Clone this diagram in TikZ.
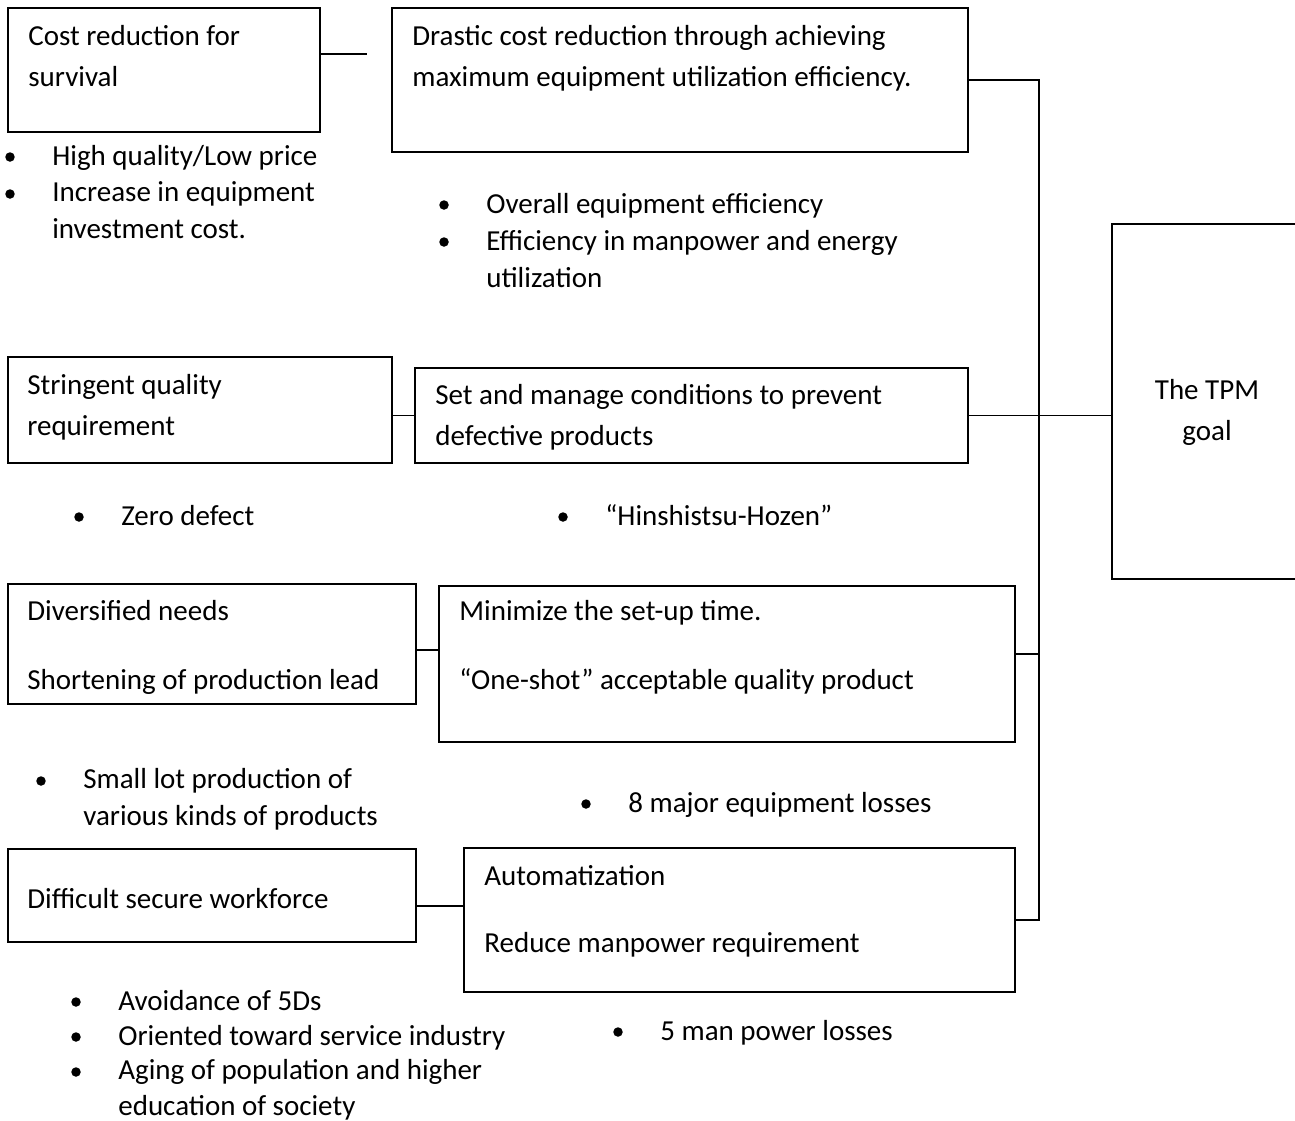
\documentclass[tikz,border=0pt]{standalone}
\usepackage{fontspec}
\setmainfont{Carlito}
\newcommand{\pxl}{0.02cm}
\tikzset{
  box/.style={draw, line width=1.1pt, inner sep=0pt, anchor=north west},
  txt/.style={anchor=base west, inner sep=0pt, align=left, font=\fontsize{16.5}{22.8}\selectfont},
  lst/.style={anchor=base west, inner sep=0pt, align=left, font=\fontsize{16.5}{20.9}\selectfont},
  blt/.style={circle, fill, inner sep=0pt, minimum size=0.19cm},
  link/.style={line width=1.1pt}
}

\begin{document}
\begin{tikzpicture}[x=0.02cm, y=-0.02cm]
\clip (0,0) rectangle (1295,1120);

% boxes
\node[box, minimum width=312*\pxl, minimum height=124*\pxl] (cost) at (7,7) {};
\node[box, minimum width=576*\pxl, minimum height=144*\pxl] (drastic) at (391,7) {};
\node[box, minimum width=384*\pxl, minimum height=106*\pxl] (strin) at (7,356) {};
\node[box, minimum width=553*\pxl, minimum height=95*\pxl] (setman) at (414,367) {};
\node[box, minimum width=408*\pxl, minimum height=120*\pxl] (divers) at (7,583) {};
\node[box, minimum width=576*\pxl, minimum height=156*\pxl] (minim) at (438,585) {};
\node[box, minimum width=408*\pxl, minimum height=93*\pxl] (diffic) at (7,848) {};
\node[box, minimum width=551*\pxl, minimum height=144*\pxl] (autom) at (463,847) {};
\node[box, minimum width=192*\pxl, minimum height=355*\pxl] (tpm) at (1111,223) {};

% texts in boxes (placed at the baseline of their last line)
\node[txt] (tcost) at (28,86) {Cost reduction for\\survival};
\node[txt] (tdrastic) at (412,86) {Drastic cost reduction through achieving\\maximum equipment utilization efficiency.};
\node[txt] (tstrin) at (27,435) {Stringent quality\\requirement};
\node[txt] (tsetman) at (435,445) {Set and manage conditions to prevent\\defective products};
\node[txt] (tdivers) at (27,620) {Diversified needs};
\begin{scope}
\clip (7,583) rectangle (415,693);
\node[txt] (tshort) at (27,689) {Shortening of production lead};
\end{scope}
\node[txt] (tminim) at (459,620) {Minimize the set-up time.};
\node[txt] (tshot) at (459,689) {“One-shot” acceptable quality product};
\node[txt] (tdiffic) at (27,908) {Difficult secure workforce};
\node[txt] (tautom) at (484,885) {Automatization};
\node[txt] (treduce) at (484,952) {Reduce manpower requirement};
\node[txt, anchor=base, align=center] (ttpm) at (1207,440) {The TPM\\goal};

% bullet lists
\node[blt] (b1) at (10,157) {};
\node[lst] (l1) at (52,165) {High quality/Low price};
\node[blt] (b2) at (10,194) {};
\node[lst] (l2) at (52,238) {Increase in equipment\\investment cost.};
\node[blt] (b3) at (444,205) {};
\node[lst] (l3) at (486,213) {Overall equipment efficiency};
\node[blt] (b4) at (444,242) {};
\node[lst] (l4) at (486,287) {Efficiency in manpower and energy\\utilization};
\node[blt] (b5) at (79,517) {};
\node[lst] (l5) at (121,525) {Zero defect};
\node[blt] (b6) at (563,517) {};
\node[lst] (l6) at (605,525) {“Hinshistsu-Hozen”};
\node[blt] (b7) at (41,781) {};
\node[lst] (l7) at (83,825) {Small lot production of\\various kinds of products};
\node[blt] (b8) at (586,804) {};
\node[lst] (l8) at (628,812) {8 major equipment losses};
\node[blt] (b9) at (76,1002) {};
\node[lst] (l9) at (118,1010) {Avoidance of 5Ds};
\node[blt] (b10) at (76,1037) {};
\node[lst] (l10) at (118,1045) {Oriented toward service industry};
\node[blt] (b11) at (76,1072) {};
\node[lst, font=\fontsize{16.5}{20}\selectfont] (l11) at (118,1115) {Aging of population and higher\\education of society};
\node[blt] (b12) at (618,1032) {};
\node[lst] (l12) at (660,1040) {5 man power losses};

% connectors
\coordinate (c1) at (367,54);
\coordinate (c3) at (0,650);
\coordinate (c4) at (0,906);
\coordinate (c5) at (0,654);
\coordinate (bus) at (1039,0);
\draw[link] (cost.east |- c1) -- (c1);
\draw[link] (strin.east |- setman.west) -- (setman.west);
\draw[link] (divers.east |- c3) -- (minim.west |- c3);
\draw[link] (diffic.east |- c4) -- (autom.west |- c4);
\draw[link] (drastic.east) -| (bus |- autom.east) -- (autom.east);
\draw[link] (setman.east) -- (setman.east -| tpm.west);
\draw[link] (minim.east |- c5) -- (bus |- c5);
\end{tikzpicture}
\end{document}
